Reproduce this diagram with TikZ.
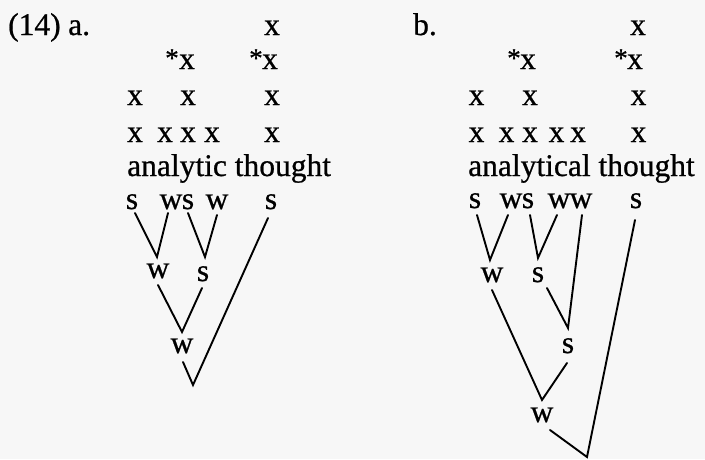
\documentclass[tikz,border=0pt]{standalone}
\usepackage{fontspec}
\setmainfont{Liberation Serif}[FakeBold=0.7]
\begin{document}
\begin{tikzpicture}[x=1pt,y=-1pt,
  txt/.style={anchor=base,inner sep=0pt,font=\fontsize{31.5}{36}\selectfont},
  wrd/.style={anchor=base west,inner sep=0pt,font=\fontsize{31.5}{36}\selectfont},
  star/.style={anchor=base,inner sep=0pt,font=\fontsize{27}{30}\selectfont},
  br/.style={line width=1.9pt,line cap=round,line join=miter}]
\fill[black!3] (0,0) rectangle (705,459);
\useasboundingbox (0,0) rectangle (705,459);
% ---------- part a ----------
\node[wrd] (pnum) at (8,35) {(14)};
\node[wrd] (pa) at (68,35) {a.};
\node[txt] (ar1a) at (272,35) {x};
\node[txt] (ar2a) at (187,69) {x};
\node[txt] (ar2b) at (270,69) {x};
\node[star] (ast1) at (172,67) {*};
\node[star] (ast2) at (256,67) {*};
\node[txt] (ar3a) at (135,105) {x};
\node[txt] (ar3b) at (188,105) {x};
\node[txt] (ar3c) at (272,105) {x};
\node[txt] (ar4a) at (135,142) {x};
\node[txt] (ar4b) at (165,142) {x};
\node[txt] (ar4c) at (188,142) {x};
\node[txt] (ar4d) at (212,142) {x};
\node[txt] (ar4e) at (272,142) {x};
\node[wrd] (aword) at (127,176) {analytic thought};
\node[txt] (as1) at (132,209) {s};
\node[txt] (aw1) at (171,209) {w};
\node[txt] (as2) at (188,209) {s};
\node[txt] (aw2) at (217,209) {w};
\node[txt] (as5) at (271,209) {s};
\node[txt] (aW3) at (158,278) {w};
\node[txt] (aS3) at (203,281) {s};
\node[txt] (aW4) at (182,353) {w};
\coordinate (ac1) at (157,257);
\coordinate (ac2) at (205,257);
\coordinate (ac3) at (182,332);
\coordinate (ac4) at (193,385);
\draw[br] ([shift={(3pt,-4pt)}]as1.base) -- (ac1) -- ([shift={(-3pt,-4pt)}]aw1.base);
\draw[br] ([shift={(0pt,-4pt)}]as2.base) -- (ac2) -- ([shift={(0pt,-6pt)}]aw2.base);
\draw[br] ([shift={(0pt,-7pt)}]aW3.base) -- (ac3) -- ([shift={(-1pt,-7pt)}]aS3.base);
\draw[br] ([shift={(1pt,-9pt)}]aW4.base) -- (ac4) -- ([shift={(-3pt,-9pt)}]as5.base);
% ---------- part b ----------
\node[wrd] (pb) at (413,35) {b.};
\node[txt] (br1a) at (638,35) {x};
\node[txt] (br2a) at (528,69) {x};
\node[txt] (br2b) at (635,69) {x};
\node[star] (bst1) at (514,67) {*};
\node[star] (bst2) at (621,67) {*};
\node[txt] (br3a) at (476.5,105) {x};
\node[txt] (br3b) at (530,105) {x};
\node[txt] (br3c) at (638.5,105) {x};
\node[txt] (br4a) at (476.5,142) {x};
\node[txt] (br4b) at (506.5,142) {x};
\node[txt] (br4c) at (530,142) {x};
\node[txt] (br4d) at (556.5,142) {x};
\node[txt] (br4e) at (578,142) {x};
\node[txt] (br4f) at (638.5,142) {x};
\node[wrd] (bword) at (468,176) {analytical thought};
\node[txt] (bs1) at (475,208) {s};
\node[txt] (bw1) at (511,208) {w};
\node[txt] (bs2) at (528,208) {s};
\node[txt] (bw2) at (559,208) {w};
\node[txt] (bw3) at (581,208) {w};
\node[txt] (bs6) at (636,208) {s};
\node[txt] (bW3) at (492,282) {w};
\node[txt] (bS3) at (538,282) {s};
\node[txt] (bS4) at (568,353) {s};
\node[txt] (bW5) at (542,422) {w};
\coordinate (bc1) at (490,260);
\coordinate (bc2) at (538,258);
\coordinate (bc3) at (568,328);
\coordinate (bc4) at (542,400);
\coordinate (bc5) at (587,457);
\draw[br] ([shift={(2pt,-7pt)}]bs1.base) -- (bc1) -- ([shift={(-3pt,-7pt)}]bw1.base);
\draw[br] ([shift={(2pt,-7pt)}]bs2.base) -- (bc2) -- ([shift={(-2pt,-7pt)}]bw2.base);
\draw[br] ([shift={(9pt,-6pt)}]bS3.base) -- (bc3) -- ([shift={(1pt,-7pt)}]bw3.base);
\draw[br] ([shift={(0pt,-8pt)}]bW3.base) -- (bc4) -- ([shift={(-1pt,-10pt)}]bS4.base);
\draw[br] ([shift={(8pt,-8pt)}]bW5.base) -- (bc5) -- ([shift={(-1pt,-12pt)}]bs6.base);
\end{tikzpicture}
\end{document}
